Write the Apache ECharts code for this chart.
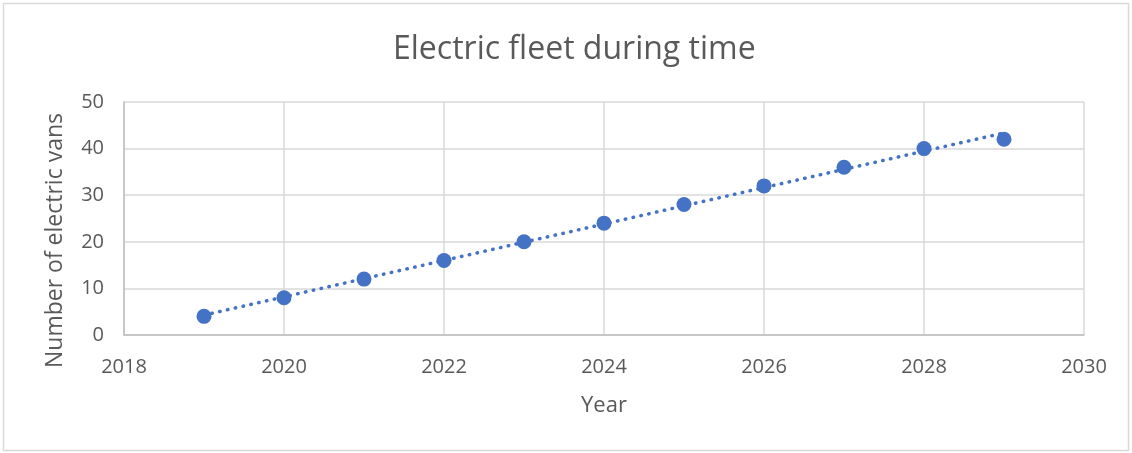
<!DOCTYPE html>
<html>
<head>
<meta charset="utf-8">
<script src="https://cdn.jsdelivr.net/npm/echarts@6/dist/echarts.min.js"></script>
<style>
html,body{margin:0;padding:0;background:#fff;}
#chart{width:1132px;height:453px;}
</style>
</head>
<body>
<div id="chart"></div>
<script>
const years = [2019, 2020, 2021, 2022, 2023, 2024, 2025, 2026, 2027, 2028, 2029];
const vans = [4, 8, 12, 16, 20, 24, 28, 32, 36, 40, 42];
const titleText = 'Electric fleet during time';
const xName = 'Year';
const yName = 'Number of electric vans';

// linear trendline (least squares) derived from the data
const n = years.length;
const mx = years.reduce((a, b) => a + b, 0) / n;
const my = vans.reduce((a, b) => a + b, 0) / n;
let sxy = 0, sxx = 0;
for (let i = 0; i < n; i++) { sxy += (years[i] - mx) * (vans[i] - my); sxx += (years[i] - mx) ** 2; }
const slope = sxy / sxx, icpt = my - slope * mx;
const trend = [years[0], years[n - 1]].map(x => [x, icpt + slope * x]);

const font = 'Open Sans';
const txt = '#595959';
const chart = echarts.init(document.getElementById('chart'), null, {renderer: 'canvas'});
chart.setOption({
  animation: false,
  backgroundColor: '#fff',
  title: {
    text: titleText, left: 388, top: 29,
    textStyle: {fontFamily: font, fontSize: 32, fontWeight: 'normal', color: txt}
  },
  grid: {left: 124, right: 48, top: 102, bottom: 118, containLabel: false},
  xAxis: {
    type: 'value', min: 2018, max: 2030, interval: 2,
    name: xName, nameLocation: 'middle', nameGap: 60,
    nameTextStyle: {fontFamily: font, fontSize: 22, color: txt},
    axisLine: {show: true, lineStyle: {color: '#bfbfbf', width: 1.5}},
    axisTick: {show: false},
    axisLabel: {fontFamily: font, fontSize: 20, color: txt, margin: 22, formatter: v => String(v)},
    splitLine: {show: true, lineStyle: {color: '#d9d9d9', width: 1.5}}
  },
  yAxis: {
    type: 'value', min: 0, max: 50, interval: 10,
    name: yName, nameLocation: 'middle', nameGap: 57,
    nameTextStyle: {fontFamily: font, fontSize: 23, color: txt, padding: [0, 44, 0, 0]},
    axisLine: {show: true, lineStyle: {color: '#bfbfbf', width: 1.5}},
    axisTick: {show: false},
    axisLabel: {fontFamily: font, fontSize: 20, color: txt, margin: 20},
    splitLine: {show: true, lineStyle: {color: '#d9d9d9', width: 1.5}}
  },
  graphic: [{
    type: 'rect', shape: {x: 3.5, y: 3.5, width: 1125, height: 447},
    style: {fill: null, stroke: '#d9d9d9', lineWidth: 1.5}, silent: true, z: -1
  }],
  series: [
    {
      type: 'line', data: trend, showSymbol: false, symbol: 'none',
      lineStyle: {color: '#4472C4', width: 3.5, type: [0.5, 7.5], cap: 'round'},
      z: 2
    },
    {
      type: 'scatter', data: years.map((y, i) => [y, vans[i]]),
      symbol: 'circle', symbolSize: 15,
      itemStyle: {color: '#4472C4', opacity: 1}, z: 3
    }
  ]
});
</script>
</body>
</html>
